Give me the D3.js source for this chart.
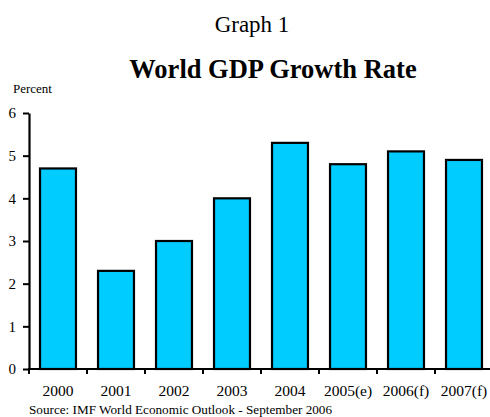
<!DOCTYPE html>
<html>
<head>
<meta charset="utf-8">
<script src="https://cdn.jsdelivr.net/npm/d3@7"></script>
<style>
  body { margin: 0; background: #fff; }
  text { font-family: "Liberation Serif", "Times New Roman", serif; fill: #000; }
</style>
</head>
<body>
<div id="chart"></div>
<script>
// data
const years = ["2000", "2001", "2002", "2003", "2004", "2005(e)", "2006(f)", "2007(f)"];
const growth = [4.7, 2.3, 3.0, 4.0, 5.3, 4.8, 5.1, 4.9];
const yTicks = [0, 1, 2, 3, 4, 5, 6];

const width = 490, height = 417;
const plot = {left: 29, right: 493, top: 113, bottom: 369};

const svg = d3.select("#chart").append("svg")
    .attr("width", width)
    .attr("height", height);

const x = d3.scaleBand()
    .domain(years)
    .range([plot.left, plot.right])
    .paddingInner(0.38)
    .paddingOuter(0.19);

const y = d3.scaleLinear()
    .domain([0, 6])
    .range([plot.bottom, plot.top]);

// titles
svg.append("text")
    .attr("x", 252).attr("y", 32)
    .attr("text-anchor", "middle")
    .attr("font-size", 23)
    .text("Graph 1");

svg.append("text")
    .attr("x", 273).attr("y", 78)
    .attr("text-anchor", "middle")
    .attr("font-size", 26.5)
    .attr("font-weight", "bold")
    .text("World GDP Growth Rate");

svg.append("text")
    .attr("x", 13).attr("y", 93)
    .attr("font-size", 13)
    .text("Percent");

// bars
svg.selectAll(".bar")
    .data(years)
    .enter().append("rect")
    .attr("class", "bar")
    .attr("x", function(d) { return x(d); })
    .attr("width", x.bandwidth())
    .attr("y", function(d, i) { return y(growth[i]); })
    .attr("height", function(d, i) { return y(0) - y(growth[i]); })
    .style("fill", "#00CCFF")
    .style("stroke", "#000")
    .style("stroke-width", 2.2);

// y axis
const yAxis = svg.append("g")
    .attr("transform", "translate(" + plot.left + ",0)")
    .call(d3.axisLeft(y)
        .tickValues(yTicks)
        .tickFormat(d3.format("d"))
        .tickSize(6).tickSizeOuter(0).tickPadding(7));
yAxis.select(".domain").attr("stroke-width", 2.2);
yAxis.selectAll(".tick line").attr("stroke-width", 2);
yAxis.selectAll(".tick text")
    .attr("font-family", "Liberation Serif, serif")
    .attr("font-size", 15);

// x axis: line, ticks on band boundaries, labels centered
const gap = (x.step() - x.bandwidth()) / 2;
svg.append("line")
    .attr("x1", plot.left - 1).attr("x2", width)
    .attr("y1", y(0)).attr("y2", y(0))
    .style("stroke", "#000").style("stroke-width", 2.2);

svg.selectAll(".xtick")
    .data(years)
    .enter().append("line")
    .attr("class", "xtick")
    .attr("x1", function(d) { return x(d) - gap; })
    .attr("x2", function(d) { return x(d) - gap; })
    .attr("y1", y(0)).attr("y2", y(0) + 5)
    .style("stroke", "#000").style("stroke-width", 2);

svg.selectAll(".xlabel")
    .data(years)
    .enter().append("text")
    .attr("class", "xlabel")
    .attr("x", function(d) { return x(d) + x.bandwidth() / 2; })
    .attr("y", 396)
    .attr("text-anchor", "middle")
    .attr("font-size", 15.5)
    .text(function(d) { return d; });

svg.append("text")
    .attr("x", 29).attr("y", 414)
    .attr("font-size", 13.2)
    .text("Source: IMF World Economic Outlook - September 2006");
</script>
</body>
</html>
